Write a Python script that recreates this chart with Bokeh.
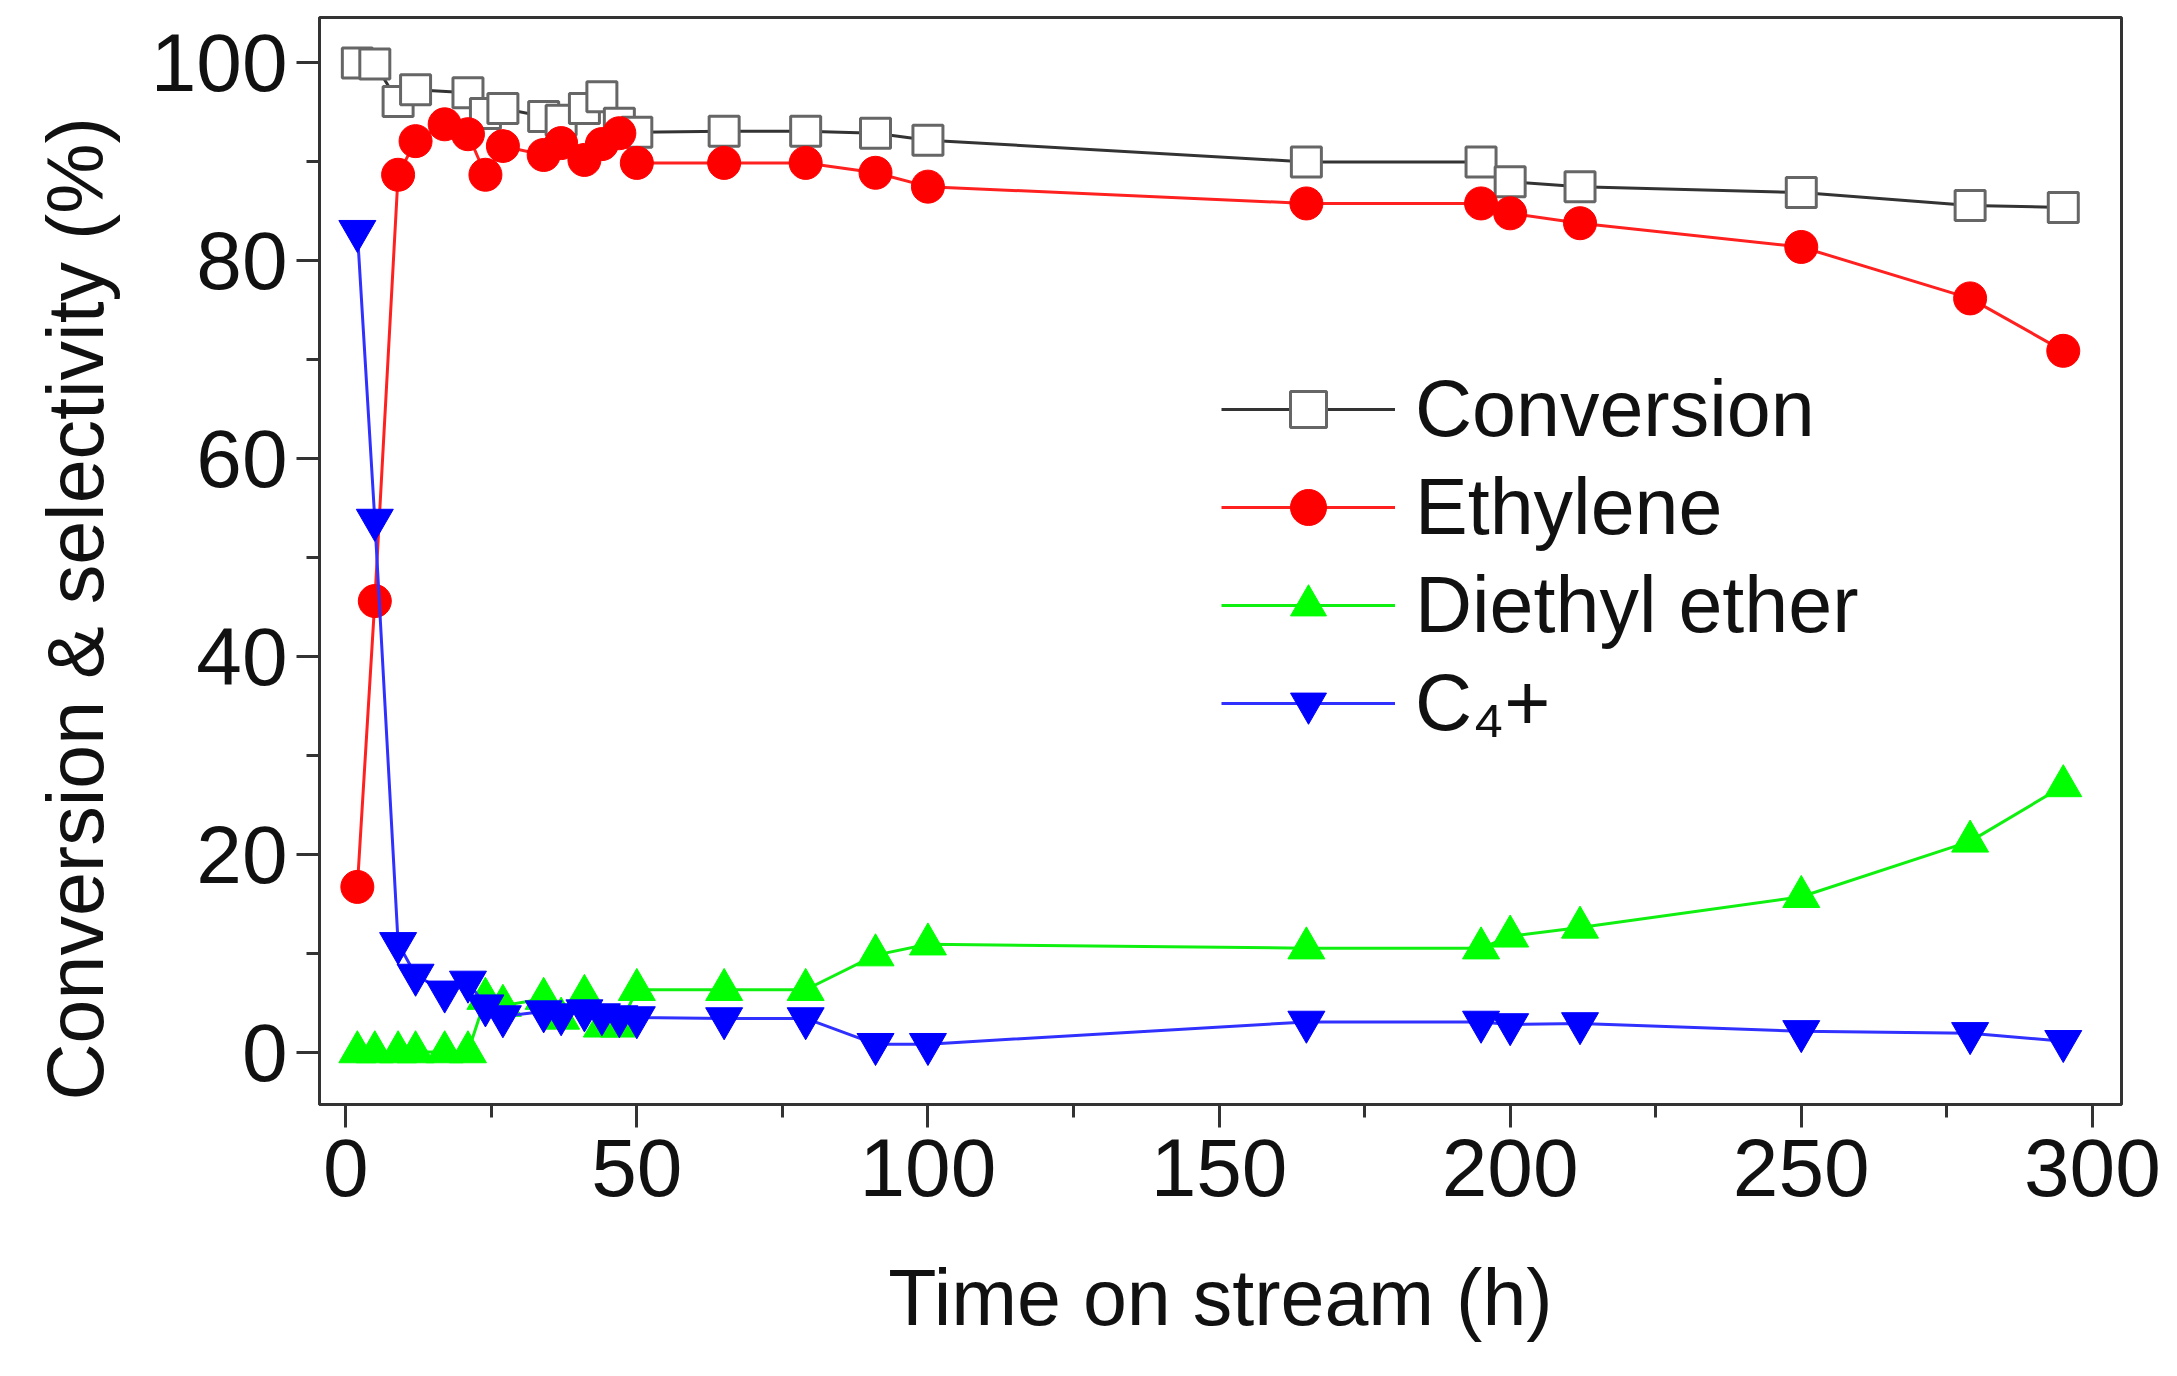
from bokeh.plotting import figure
from bokeh.models import SingleIntervalTicker, Range1d, Legend, LegendItem, Title
from bokeh.embed import file_html
from bokeh.resources import INLINE

# ---- data ----
t_conv = [2, 5, 9, 12, 21, 24, 27, 34, 37, 41, 44, 47, 50, 65, 79, 91, 100,
          165, 195, 200, 212, 250, 279, 295]
conversion = [100, 99.9, 96.1, 97.3, 97.0, 94.9, 95.4, 94.6, 94.2, 95.4, 96.6, 93.9, 93.0,
              93.1, 93.1, 92.9, 92.2, 90.0, 90.0, 88.0, 87.5, 86.9, 85.6, 85.4]

t_sel = [2, 5, 9, 12, 17, 21, 24, 27, 34, 37, 41, 44, 47, 50, 65, 79, 91, 100,
         165, 195, 200, 212, 250, 279, 295]
ethylene = [16.7, 45.6, 88.7, 92.1, 93.8, 92.8, 88.7, 91.6, 90.7, 91.9, 90.2, 91.8, 92.9,
            89.9, 89.9, 89.9, 88.9, 87.5, 85.8, 85.8, 84.8, 83.8, 81.4, 76.2, 70.9]
diethyl_ether = [0, 0, 0, 0, 0, 0, 5.4, 4.7, 5.4, 3.4, 5.7, 2.6, 2.6,
                 6.3, 6.3, 6.3, 9.8, 10.9, 10.5, 10.5, 11.7, 12.6, 15.7, 21.3, 26.9]
c4plus = [83.0, 53.8, 11.0, 7.8, 6.1, 7.1, 4.7, 3.6, 4.1, 3.8, 4.2, 3.8, 3.6,
          3.5, 3.4, 3.4, 0.8, 0.8, 3.05, 3.05, 2.8, 2.9, 2.1, 1.9, 1.1]

x_label = "Time on stream (h)"
y_label = "Conversion & selectivity (%)"
names = ["Conversion", "Ethylene", "Diethyl ether", "C\u2084+"]

FONT = "Liberation Sans"
TICK_FS = "82px"
LAB_FS = "79px"

p = figure(width=2161, height=1360, output_backend="svg", toolbar_location=None,
           x_range=Range1d(-4.5, 305), y_range=Range1d(-5.3, 104.6),
           min_border_left=316, min_border_right=40, min_border_top=17, min_border_bottom=256)
p.background_fill_color = "white"
p.border_fill_color = "white"
p.outline_line_color = "#333333"
p.outline_line_width = 3
p.xgrid.visible = False
p.ygrid.visible = False

p.xaxis.ticker = SingleIntervalTicker(interval=50, num_minor_ticks=2)
p.yaxis.ticker = SingleIntervalTicker(interval=20, num_minor_ticks=2)
for ax in (p.xaxis[0], p.yaxis[0]):
    ax.axis_line_color = "#333333"
    ax.axis_line_width = 3
    ax.major_tick_line_color = "#333333"
    ax.major_tick_line_width = 3
    ax.minor_tick_line_color = "#333333"
    ax.minor_tick_line_width = 3
    ax.major_tick_in = 0
    ax.major_tick_out = 23
    ax.minor_tick_in = 0
    ax.minor_tick_out = 13
    ax.major_label_text_font = FONT
    ax.major_label_text_font_size = TICK_FS
    ax.major_label_text_color = "#111111"
    ax.axis_label_text_font = FONT
    ax.axis_label_text_font_size = LAB_FS
    ax.axis_label_text_font_style = "normal"
    ax.axis_label_text_color = "#111111"
p.xaxis.axis_label = x_label
p.xaxis.major_label_standoff = 11
p.xaxis.axis_label_standoff = 54
p.yaxis.major_label_standoff = 9

# y-axis title, drawn as a side title so it can start near the bottom of the frame
ytitle = Title(text=y_label, align="left", offset=4, vertical_align="bottom", standoff=56,
               text_font=FONT, text_font_size=LAB_FS, text_font_style="normal",
               text_color="#111111")
p.add_layout(ytitle, "left")

# Conversion
l1 = p.line(t_conv, conversion, line_color="#333333", line_width=3)
m1 = p.scatter(t_conv, conversion, marker="square", size=30, fill_color="white",
               line_color="#666666", line_width=3)
# Ethylene
l2 = p.line(t_sel, ethylene, line_color="#FF2020", line_width=3)
m2 = p.scatter(t_sel, ethylene, marker="circle", size=33, fill_color="#FF0000",
               line_color="#FF0000", line_width=1)
# Diethyl ether
l3 = p.line(t_sel, diethyl_ether, line_color="#10F010", line_width=3)
m3 = p.scatter(t_sel, diethyl_ether, marker="triangle", size=37, fill_color="#00FF00",
               line_color="#00FF00", line_width=1)
# C4+
l4 = p.line(t_sel, c4plus, line_color="#3030FF", line_width=3)
m4 = p.scatter(t_sel, c4plus, marker="inverted_triangle", size=37, fill_color="#0000FF",
               line_color="#0000FF", line_width=1)

legend = Legend(items=[
    LegendItem(label=names[0], renderers=[l1, m1]),
    LegendItem(label=names[1], renderers=[l2, m2]),
    LegendItem(label=names[2], renderers=[l3, m3]),
    LegendItem(label=names[3], renderers=[l4, m4]),
], location=(902, 355))
legend.label_text_font = FONT
legend.label_text_font_size = LAB_FS
legend.label_text_color = "#111111"
legend.glyph_width = 174
legend.glyph_height = 90
legend.label_height = 90
legend.label_standoff = 20
legend.spacing = 6
legend.padding = 0
legend.margin = 0
legend.border_line_color = None
legend.background_fill_alpha = 0
p.add_layout(legend, "center")

open("out.html", "w").write(file_html(p, INLINE))
